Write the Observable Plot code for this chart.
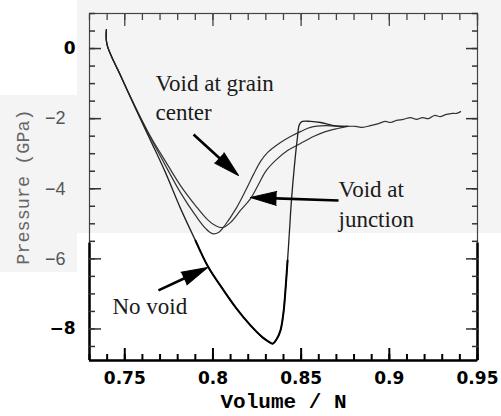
<!DOCTYPE html>
<html><head><meta charset="utf-8">
<script src="https://cdn.jsdelivr.net/npm/d3@7"></script>
<script src="https://cdn.jsdelivr.net/npm/@observablehq/plot@0.6"></script>
<style>
body{margin:0;background:#fff;}
#wrap{position:relative;width:501px;height:416px;overflow:hidden;}
.bg{position:absolute;background:#f4f4f4;}
#chart{position:absolute;left:0;top:0;}
</style></head><body>
<div id="wrap">
<div class="bg" style="left:77px;top:0;width:424px;height:233px"></div>
<div class="bg" style="left:0;top:95px;width:77px;height:177px"></div>
<div id="chart"></div>
</div>
<script>
// ---- data ----
const xDomain = [0.73, 0.95];
const yDomain = [-8.9, 1.0];
const xMajorTicks = [0.75, 0.8, 0.85, 0.9, 0.95];
const xMinorTicks = d3.range(73, 96).map(d => d / 100);
const yMajorTicks = [0, -2, -4, -6, -8];
const yMinorTicks = d3.range(-17, 3).map(d => d / 2);
const yBoldLabels = [0, -8];
const yLightLabels = [-2, -4, -6];

const noVoidVolume = [0.7396, 0.7399, 0.7476, 0.7561, 0.7646, 0.7731, 0.7816, 0.7901, 0.7975, 0.8054, 0.8134, 0.8213, 0.8281, 0.8315, 0.8338, 0.8360, 0.8383, 0.8400, 0.8411, 0.8423, 0.8434, 0.8445, 0.8462, 0.8479, 0.8490, 0.8507, 0.8553, 0.8610, 0.8684, 0.8763];
const noVoidPressure = [0.54, 0.12, -0.77, -1.71, -2.62, -3.54, -4.56, -5.48, -6.25, -6.85, -7.42, -7.90, -8.24, -8.36, -8.42, -8.30, -8.04, -7.53, -6.90, -6.05, -5.19, -4.34, -3.34, -2.54, -2.17, -2.08, -2.08, -2.11, -2.20, -2.22];

const grainVolume = [0.7396, 0.7399, 0.7476, 0.7561, 0.7646, 0.7731, 0.7816, 0.7901, 0.7958, 0.7997, 0.8031, 0.8071, 0.8128, 0.8185, 0.8230, 0.8270, 0.8309, 0.8383, 0.8440, 0.8496, 0.8553, 0.8638, 0.8723, 0.8763];
const grainPressure = [0.54, 0.12, -0.77, -1.68, -2.54, -3.34, -4.11, -4.76, -5.13, -5.28, -5.25, -5.02, -4.59, -4.05, -3.59, -3.22, -2.97, -2.68, -2.51, -2.37, -2.25, -2.20, -2.22, -2.22];

const junctionVolume = [0.7396, 0.7399, 0.7476, 0.7561, 0.7646, 0.7731, 0.7816, 0.7901, 0.7969, 0.8014, 0.8054, 0.8100, 0.8156, 0.8213, 0.8258, 0.8298, 0.8355, 0.8423, 0.8496, 0.8570, 0.8638, 0.8706, 0.8763];
const junctionPressure = [0.54, 0.12, -0.77, -1.68, -2.51, -3.22, -3.91, -4.48, -4.88, -5.05, -5.11, -4.96, -4.62, -4.28, -3.88, -3.51, -3.19, -2.91, -2.71, -2.51, -2.37, -2.28, -2.22];

const tailVolume = [0.8763, 0.8808, 0.8848, 0.8893, 0.8939, 0.8978, 0.9007, 0.9041, 0.9080, 0.9120, 0.9154, 0.9188, 0.9222, 0.9256, 0.9290, 0.9324, 0.9358, 0.9381, 0.9404];
const tailPressure = [-2.22, -2.22, -2.25, -2.20, -2.14, -2.08, -2.11, -2.05, -2.02, -1.97, -2.02, -1.97, -2.00, -1.91, -1.94, -1.88, -1.85, -1.85, -1.80];

const labelText = ["Void at grain\ncenter", "Void at\njunction", "No void"];
const labelX = [0.7674, 0.8712, 0.7430];
const labelY = [-2.05, -5.08, -7.56];

const arrowTailX = [0.7890, 0.8712, 0.7691];
const arrowTailY = [-2.45, -4.335, -6.90];
const arrowTipX = [0.8145, 0.8213, 0.7969];
const arrowTipY = [-3.62, -4.25, -6.25];

// ---- layout ----
const W = 501, H = 416, mL = 89, mR = 24, mT = 13, mB = 56;
const boldBelow = -5.55; // lower (bold, black) part of the figure
const kx = (W - mL - mR) / (xDomain[1] - xDomain[0]);
const ky = (H - mT - mB) / (yDomain[1] - yDomain[0]);
const headLen = 26;
const arrows = arrowTailX.map((x1, i) => {
  const y1 = arrowTailY[i], x2 = arrowTipX[i], y2 = arrowTipY[i];
  const dxp = (x2 - x1) * kx, dyp = -(y2 - y1) * ky;
  const len = Math.hypot(dxp, dyp);
  const f = (len - headLen * 0.7) / len;
  return {x1, y1, x2, y2, bx: x1 + (x2 - x1) * f, by: y1 + (y2 - y1) * f,
          rotate: Math.atan2(dxp, -dyp) * 180 / Math.PI};
});
const noVoidIdx = d3.range(noVoidVolume.length);
const noVoidBold = noVoidIdx.filter(i => noVoidPressure[i] <= boldBelow + 0.1);

const fmt = d => d < 0 ? "\u2212" + Math.abs(d) : String(d);
const none = () => "";
const boldFont = {fontFamily: "DejaVu Sans", fontWeight: "bold", fontSize: 17, fill: "black"};

const chart = Plot.plot({
  width: W, height: H,
  marginLeft: mL, marginRight: mR, marginTop: mT, marginBottom: mB,
  x: {domain: xDomain},
  y: {domain: yDomain},
  style: {background: "transparent", overflow: "visible"},
  marks: [
    Plot.frame({stroke: "#444", strokeWidth: 1.2}),
    Plot.ruleY([yDomain[0]], {stroke: "black", strokeWidth: 2.5}),
    Plot.ruleX(xDomain, {y1: yDomain[0], y2: boldBelow, stroke: "black", strokeWidth: 2.5}),
    Plot.axisX({anchor: "bottom", ticks: xMinorTicks, tickSize: -6, tickFormat: none, label: null, stroke: "black", strokeWidth: 2}),
    Plot.axisX({anchor: "bottom", ticks: xMajorTicks, tickSize: -12, tickPadding: 23, tickFormat: fmt, label: null, stroke: "black", strokeWidth: 2, ...boldFont}),
    Plot.axisX({anchor: "top", ticks: xMinorTicks, tickSize: -6, tickFormat: none, label: null, stroke: "#444", strokeWidth: 1.3}),
    Plot.axisX({anchor: "top", ticks: xMajorTicks, tickSize: -12, tickFormat: none, label: null, stroke: "#444", strokeWidth: 1.3}),
    Plot.axisY({anchor: "left", ticks: yMinorTicks, tickSize: -6, tickFormat: none, label: null, stroke: "#333", strokeWidth: 1.5}),
    Plot.axisY({anchor: "left", ticks: yMajorTicks, tickSize: -12, tickFormat: none, label: null, stroke: "#333", strokeWidth: 1.5}),
    Plot.axisY({anchor: "right", ticks: yMinorTicks, tickSize: -6, tickFormat: none, label: null, stroke: "#333", strokeWidth: 1.5}),
    Plot.axisY({anchor: "right", ticks: yMajorTicks, tickSize: -12, tickFormat: none, label: null, stroke: "#333", strokeWidth: 1.5}),
    Plot.axisY({anchor: "left", ticks: yBoldLabels, tickSize: 0, tickPadding: 14, tickFormat: fmt, label: null, ...boldFont}),
    Plot.axisY({anchor: "left", ticks: yLightLabels, tickSize: 0, tickPadding: 24, tickFormat: fmt, label: null,
      fontFamily: "Liberation Sans", fontSize: 18, fill: "#555"}),
    Plot.line(grainVolume, {x: grainVolume, y: grainPressure, stroke: "#333", strokeWidth: 1.2, curve: "catmull-rom"}),
    Plot.line(junctionVolume, {x: junctionVolume, y: junctionPressure, stroke: "#333", strokeWidth: 1.2, curve: "catmull-rom"}),
    Plot.line(tailVolume, {x: tailVolume, y: tailPressure, stroke: "#333", strokeWidth: 1.2, curve: "catmull-rom"}),
    Plot.line(noVoidIdx, {x: i => noVoidVolume[i], y: i => noVoidPressure[i], stroke: "#222", strokeWidth: 1.3, curve: "catmull-rom"}),
    Plot.line(noVoidBold, {x: i => noVoidVolume[i], y: i => noVoidPressure[i], stroke: "black", strokeWidth: 2, curve: "catmull-rom"}),
    Plot.link(arrows, {x1: "x1", y1: "y1", x2: "bx", y2: "by", stroke: "black", strokeWidth: 2.6}),
    Plot.vector(arrows, {x: "x2", y: "y2", rotate: "rotate", length: headLen, r: 7, shape: "spike", anchor: "end", fill: "black", stroke: "black", strokeWidth: 1}),
    Plot.text(labelText, {x: labelX, y: labelY, text: d => d, textAnchor: "start", lineAnchor: "bottom", lineHeight: 1.28,
      fontFamily: "Liberation Serif", fontSize: 23, fill: "#1a1a1a"}),
    Plot.text(["Volume / N"], {frameAnchor: "bottom", dy: 41, lineAnchor: "middle", textAnchor: "middle", fontFamily: "Liberation Mono", fontWeight: "bold", fontSize: 21, fill: "black"}),
    Plot.text(["Pressure (GPa)"], {frameAnchor: "left", dx: -66, rotate: -90, textAnchor: "middle", lineAnchor: "middle", fontFamily: "Liberation Mono", fontSize: 18.5, fill: "#666"})
  ]
});
document.getElementById("chart").appendChild(chart);
</script>
</body></html>
